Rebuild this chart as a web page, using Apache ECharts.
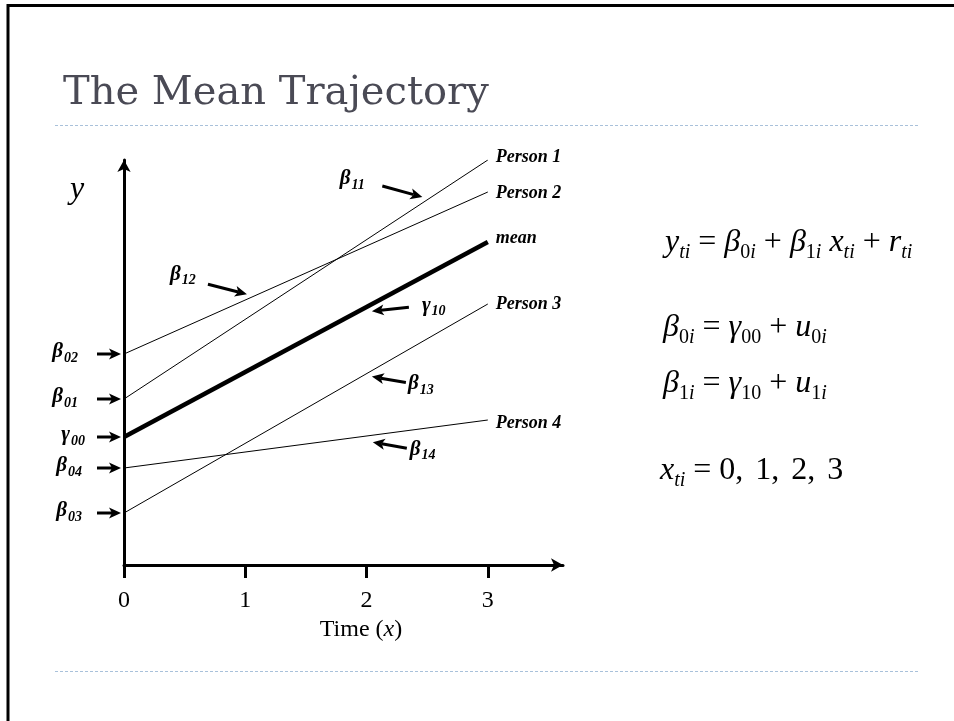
<!DOCTYPE html>
<html>
<head>
<meta charset="utf-8">
<script src="https://cdn.jsdelivr.net/npm/echarts@6/dist/echarts.min.js"></script>
<style>
  html, body { margin: 0; padding: 0; background: #fff; }
  #main { width: 954px; height: 721px; }
</style>
</head>
<body>
<div id="main"></div>
<script>
// Individual growth trajectories and the mean trajectory, y against time x
const lineNames = ['Person 1', 'Person 2', 'mean', 'Person 3', 'Person 4'];
const valuesAtTime0 = [16.6, 21.1, 12.8, 5.2, 9.7];
const valuesAtTime3 = [40.5, 37.3, 32.3, 26.1, 14.5];
const timeTicks = [0, 1, 2, 3];
const interceptSymbols = [['β', '01'], ['β', '02'], ['γ', '00'], ['β', '03'], ['β', '04']];
const slopeSymbols = [['β', '11'], ['β', '12'], ['γ', '10'], ['β', '13'], ['β', '14']];

const SERIF = '"Liberation Serif", "Times New Roman", serif';

// where the slope arrows sit: time along the line, gap off the line (px),
// tail vector from tip (px), label offset from tip (px)
const slopeArrowLayout = [
  { at: 2.46, gap: -6, tail: [-40, -11], label: [-70, -15], align: 'center' },
  { at: 1.014, gap: -5, tail: [-39, -10], label: [-64, -17], align: 'center' },
  { at: 2.044, gap: 7, tail: [37, -4], label: [50, -3], align: 'left' },
  { at: 2.044, gap: 6, tail: [34, 6], label: [36, 10], align: 'left' },
  { at: 2.052, gap: 7, tail: [34, 6], label: [37, 10], align: 'left' }
];
const interceptLabelDx = [-43, -43, -36, -39, -39];
const endLabelDy = [-3, 1, -4, 0, 3];

const chart = echarts.init(document.getElementById('main'), null, { renderer: 'canvas' });

const series = lineNames.map((name, i) => ({
  name: name,
  type: 'line',
  data: [[0, valuesAtTime0[i]], [3, valuesAtTime3[i]]],
  symbol: 'none',
  silent: true,
  z: name === 'mean' ? 4 : 3,
  lineStyle: { color: '#000', width: name === 'mean' ? 4.5 : 1 },
  endLabel: {
    show: true,
    formatter: name,
    distance: 8,
    offset: [0, endLabelDy[i]],
    fontFamily: SERIF,
    fontStyle: 'italic',
    fontWeight: 'bold',
    fontSize: 18,
    color: '#000'
  }
}));

chart.setOption({
  animation: false,
  backgroundColor: '#fff',
  grid: { left: 124, right: 391, top: 160, bottom: 156, containLabel: false },
  xAxis: {
    type: 'value',
    min: 0,
    max: 3.62,
    name: 'Time ({i|x})',
    nameLocation: 'middle',
    nameGap: 48,
    nameTextStyle: {
      fontFamily: SERIF, fontSize: 24, color: '#000', padding: [0, 0, 0, 35],
      rich: { i: { fontFamily: SERIF, fontSize: 24, fontStyle: 'italic', color: '#000' } }
    },
    axisLine: {
      show: true,
      symbol: ['none', 'arrow'],
      symbolSize: [10, 12],
      lineStyle: { color: '#000', width: 3 }
    },
    axisTick: {
      show: true,
      customValues: timeTicks,
      length: 13,
      lineStyle: { color: '#000', width: 3 }
    },
    axisLabel: {
      customValues: timeTicks,
      margin: 24,
      fontFamily: SERIF,
      fontSize: 24,
      color: '#000'
    },
    splitLine: { show: false }
  },
  yAxis: {
    type: 'value',
    min: 0,
    max: 40.5,
    axisLine: {
      show: true,
      onZero: false,
      symbol: ['none', 'arrow'],
      symbolSize: [10, 12],
      lineStyle: { color: '#000', width: 3 }
    },
    axisTick: { show: false },
    axisLabel: { show: false },
    splitLine: { show: false }
  },
  series: series
});

// ---- annotations: frame, title, arrows, labels and equations ----
function px(x, y) { return chart.convertToPixel({ gridIndex: 0 }, [x, y]); }

function arrow(tail, tip) {
  const dx = tip[0] - tail[0], dy = tip[1] - tail[1];
  const len = Math.sqrt(dx * dx + dy * dy);
  const ux = dx / len, uy = dy / len, nx = -uy, ny = ux;
  const L = 12, W = 5.5, N = 3;
  const bx = tip[0] - ux * L, by = tip[1] - uy * L;
  const notch = [tip[0] - ux * (L - N), tip[1] - uy * (L - N)];
  return [
    { type: 'line', silent: true, z: 10,
      shape: { x1: tail[0], y1: tail[1], x2: notch[0], y2: notch[1] },
      style: { stroke: '#000', lineWidth: 3 } },
    { type: 'polygon', silent: true, z: 10,
      shape: { points: [tip, [bx + nx * W, by + ny * W], notch, [bx - nx * W, by - ny * W]] },
      style: { fill: '#000' } }
  ];
}

const symRich = {
  g: { fontFamily: SERIF, fontStyle: 'italic', fontWeight: 'bold', fontSize: 21, lineHeight: 21,
       verticalAlign: 'bottom', padding: [0, 0, 3, 0], color: '#000' },
  s: { fontFamily: SERIF, fontStyle: 'italic', fontWeight: 'bold', fontSize: 14, lineHeight: 14,
       verticalAlign: 'bottom', padding: [0, 0, 0, 1], color: '#000' }
};
function symText(sym, x, y, align) {
  return { type: 'text', silent: true, z: 10,
    style: { text: '{g|' + sym[0] + '}{s|' + sym[1] + '}', x: x, y: y, align: align,
             verticalAlign: 'middle', rich: symRich } };
}

const els = [];

// slide frame and separators
els.push({ type: 'line', silent: true, shape: { x1: 7, y1: 5.5, x2: 954, y2: 5.5 }, style: { stroke: '#000', lineWidth: 3 } });
els.push({ type: 'line', silent: true, shape: { x1: 8, y1: 4, x2: 8, y2: 721 }, style: { stroke: '#000', lineWidth: 3 } });
[125.5, 671.5].forEach(y => els.push({ type: 'line', silent: true,
  shape: { x1: 55, y1: y, x2: 918, y2: y },
  style: { stroke: '#a9c1da', lineWidth: 1, lineDash: [3, 2] } }));

// title
els.push({ type: 'text', silent: true,
  style: { text: 'The Mean Trajectory', x: 63, y: 74, align: 'left', verticalAlign: 'top',
           fontFamily: '"DejaVu Serif", serif', fontSize: 40, fill: '#4a4a55' } });

// y axis name
els.push({ type: 'text', silent: true,
  style: { text: 'y', x: 77, y: 190, align: 'center', verticalAlign: 'middle',
           fontFamily: SERIF, fontStyle: 'italic', fontSize: 32, fill: '#000' } });

// intercept arrows pointing at the y axis
lineNames.forEach((name, i) => {
  const p = px(0, valuesAtTime0[i]);
  const tip = [p[0] - 3, p[1]];
  const tail = [tip[0] - 24, tip[1]];
  arrow(tail, tip).forEach(e => els.push(e));
  els.push(symText(interceptSymbols[i], tip[0] + interceptLabelDx[i], tip[1] + 1, 'right'));
});

// slope arrows pointing at each line
lineNames.forEach((name, i) => {
  const lay = slopeArrowLayout[i];
  const yOnLine = valuesAtTime0[i] + (valuesAtTime3[i] - valuesAtTime0[i]) * lay.at / 3;
  const p = px(lay.at, yOnLine);
  const tip = [p[0], p[1] + lay.gap];
  const tail = [tip[0] + lay.tail[0], tip[1] + lay.tail[1]];
  arrow(tail, tip).forEach(e => els.push(e));
  els.push(symText(slopeSymbols[i], tip[0] + lay.label[0], tip[1] + lay.label[1], lay.align));
});

// model equations
const eqRich = {
  m: { fontFamily: SERIF, fontStyle: 'italic', fontSize: 32, lineHeight: 32, verticalAlign: 'bottom', padding: [0, 0, 4, 0], color: '#000' },
  n: { fontFamily: SERIF, fontStyle: 'normal', fontSize: 32, lineHeight: 32, verticalAlign: 'bottom', padding: [0, 0, 4, 0], color: '#000' },
  w: { fontFamily: SERIF, fontStyle: 'normal', fontSize: 32, lineHeight: 32, verticalAlign: 'bottom', padding: [0, 0, 4, 0], width: 12 },
  si: { fontFamily: SERIF, fontStyle: 'italic', fontSize: 20, lineHeight: 20, verticalAlign: 'bottom', color: '#000' },
  sn: { fontFamily: SERIF, fontStyle: 'normal', fontSize: 20, lineHeight: 20, verticalAlign: 'bottom', color: '#000' }
};
const equations = [
  { text: '{m|y}{si|ti}{n| = }{m|β}{sn|0}{si|i}{n| + }{m|β}{sn|1}{si|i}{n| }{m|x}{si|ti}{n| + }{m|r}{si|ti}', x: 665, y: 263 },
  { text: '{m|β}{sn|0}{si|i}{n| = }{m|γ}{sn|00}{n| + }{m|u}{sn|0}{si|i}', x: 663, y: 348 },
  { text: '{m|β}{sn|1}{si|i}{n| = }{m|γ}{sn|10}{n| + }{m|u}{sn|1}{si|i}', x: 663, y: 404 },
  { text: '{m|x}{si|ti}{n| = 0,}{w| }{n|1,}{w| }{n|2,}{w| }{n|3}', x: 660, y: 491 }
];
equations.forEach(eq => els.push({ type: 'text', silent: true,
  style: { text: eq.text, x: eq.x, y: eq.y, align: 'left', verticalAlign: 'bottom', rich: eqRich } }));

chart.setOption({ graphic: { elements: els } });
</script>
</body>
</html>
